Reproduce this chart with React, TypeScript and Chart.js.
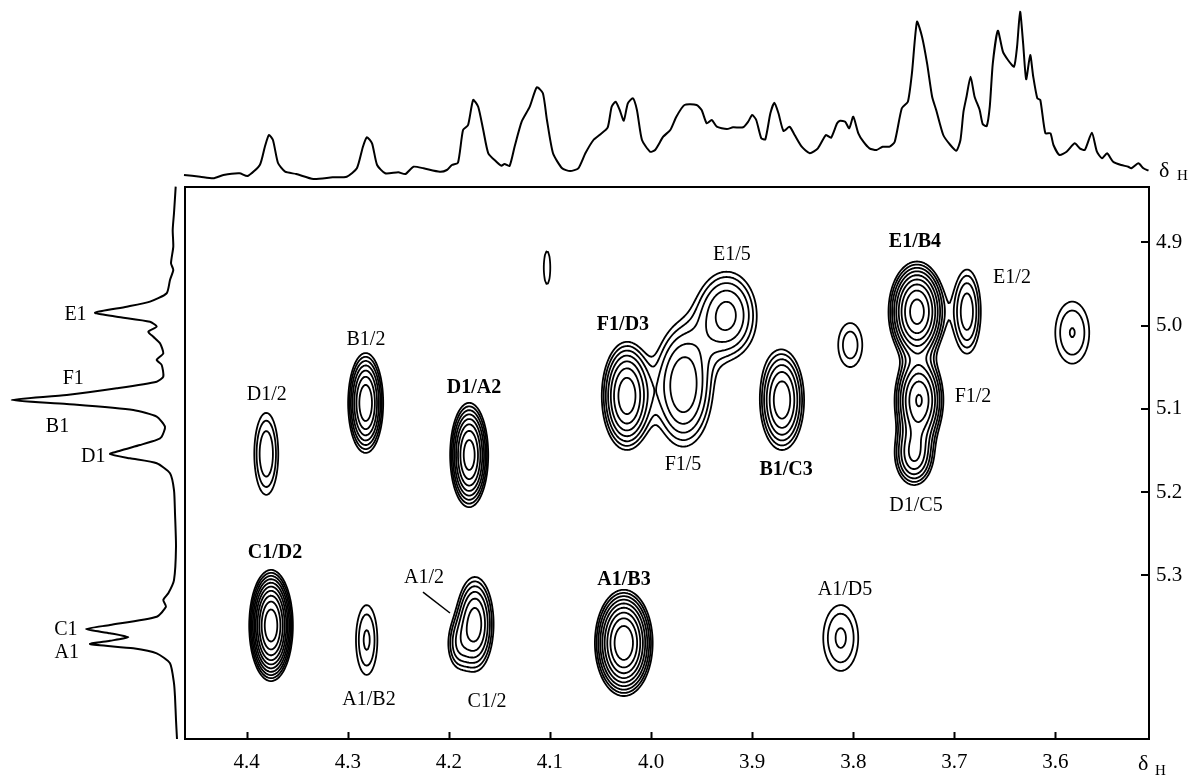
import React, { useEffect, useRef } from "react";
import { Chart, registerables } from "chart.js";

Chart.register(...registerables);

// ---------- axes ----------
const X_MIN = 3.5075;
const X_MAX = 4.461;
const Y_MIN = 4.8336;
const Y_MAX = 5.4966;
const xTickValues = [4.4, 4.3, 4.2, 4.1, 4.0, 3.9, 3.8, 3.7, 3.6];
const yTickValues = [4.9, 5.0, 5.1, 5.2, 5.3];

// ---------- top 1D projection (δH, intensity) ----------
const topShift = [4.462,4.446,4.433,4.423,4.407,4.399,4.387,4.382,4.378,4.374,4.369,4.362,4.351,4.334,4.315,4.301,4.291,4.285,4.281,4.276,4.271,4.263,4.250,4.243,4.235,4.225,4.209,4.202,4.197,4.191,4.186,4.181,4.176,4.171,4.166,4.161,4.153,4.148,4.145,4.140,4.135,4.128,4.120,4.113,4.107,4.103,4.097,4.088,4.080,4.072,4.065,4.057,4.051,4.043,4.039,4.035,4.031,4.027,4.023,4.018,4.014,4.009,4.001,3.996,3.988,3.981,3.975,3.967,3.955,3.950,3.945,3.940,3.935,3.925,3.919,3.909,3.904,3.900,3.896,3.891,3.887,3.882,3.878,3.874,3.869,3.863,3.858,3.851,3.843,3.835,3.827,3.822,3.816,3.813,3.808,3.804,3.800,3.795,3.790,3.784,3.777,3.771,3.764,3.759,3.752,3.746,3.742,3.737,3.732,3.727,3.722,3.718,3.711,3.704,3.698,3.694,3.691,3.688,3.684,3.680,3.675,3.672,3.668,3.665,3.662,3.657,3.652,3.647,3.641,3.638,3.635,3.632,3.629,3.625,3.622,3.618,3.615,3.610,3.605,3.602,3.596,3.589,3.581,3.576,3.571,3.564,3.559,3.554,3.549,3.543,3.535,3.528,3.525,3.518,3.513,3.508];
const topIntensity = [5,3.3,1.7,5,6.7,4,15,33.3,45,40,17,8.3,6,1,2.7,3.3,11.7,33.3,42.7,36.7,15,6.7,7.7,6,13.3,11.7,8.3,10,15,17.3,50,55,80,73.3,50,26.7,18.3,14.3,16,14,33.3,58.3,73.3,92.7,86.7,60,26.7,11.7,9,11.7,26.7,40,45,52.3,73.3,78.3,70,59.3,76.7,81.7,70,40,28.3,30,43.3,50,63.3,75,75,70,56.7,60,53.3,51,52.7,52.7,58.3,65,60,41.7,40.7,66.7,77.3,66.7,49,53.3,45,33.3,26.7,31.7,45,42.3,56.7,59.3,58.3,51.7,63.3,46.7,38.3,31.7,30,33.3,33.3,38.3,71.7,78.3,106.7,158.3,143.3,116.7,83.3,70,45,35,29.3,40,68.3,83.3,103.3,83.3,70,56,54,73.3,116.7,149.3,128.3,120,113.3,133.3,168.3,136.7,100.7,125,103.3,81.7,80,46.7,46.7,35,25,28.3,36.7,31.7,30,47.3,28.3,21.7,26.7,18.3,15,13.3,11.7,16.7,11.7,9.3];

// ---------- left 1D projection (δH, intensity) ----------
const leftShift = [4.8332,4.8648,4.8852,4.9052,4.9252,4.9332,4.9453,4.9612,4.9713,4.9774,4.9846,4.9894,4.9954,5.0013,5.0074,5.0135,5.0213,5.0334,5.0413,5.0474,5.0614,5.0674,5.0754,5.0835,5.0894,5.0942,5.1015,5.1094,5.1215,5.1335,5.1374,5.1435,5.1503,5.1543,5.1595,5.1654,5.1774,5.1976,5.2255,5.2657,5.3057,5.3216,5.3297,5.3377,5.3497,5.3597,5.3645,5.3696,5.3744,5.3786,5.3825,5.3877,5.3937,5.4057,5.4297,5.4458,5.4738,5.4966];
const leftIntensity = [4.3,6,7.3,6.7,9,6.7,10,13.3,30,53.3,85,63.3,30,23.3,31.7,26.7,20,16.7,23.3,18.3,16.7,23.3,63.3,113.3,168.3,113.3,46.7,23.3,15,18.3,23.3,40,60,70,50,23.3,10,6,5,4,6,11.7,16.7,14,23.3,70,94,70,51.7,70,90,46.7,23.3,10,6,5,4,3];
const projLabel = ["E1", "F1", "B1", "D1", "C1", "A1"];
const projLabelShift = [4.9873, 5.0642, 5.1218, 5.1579, 5.3657, 5.3933];
const projLabelIntensity = [104.5, 106.7, 122.5, 86.7, 114.2, 113.3];
const projDotShift = [5.1038];
const projDotIntensity = [119];

// ---------- 2D cross peaks (centre δH, δH; widths; height) ----------
const peakName = ["D1/2","B1/2","D1/A2","C1/D2","A1/B2","C1/2","A1/2","x4.10","F1/D3","F1/5","E1/5","B1/C3","x3.80","E1/B4","E1/2","F1/2","D1/C5","x3.58","A1/B3","A1/D5"];
const peakX = [4.3806,4.2823,4.1799,4.3759,4.2813,4.1742,4.1920,4.1029,4.0241,3.9681,3.9252,3.8705,3.8030,3.7370,3.6875,3.7350,3.7399,3.5834,4.0270,3.8124];
const peakY = [5.1541,5.0930,5.1555,5.3603,5.3777,5.3585,5.3838,4.9305,5.0846,5.0722,4.9877,5.0894,5.0234,4.9833,4.9833,5.0894,5.1555,5.0085,5.3812,5.3753];
const peakSX = [0.0096,0.0091,0.0094,0.0095,0.0099,0.0107,0.0079,0.0058,0.0131,0.0181,0.0195,0.0125,0.0130,0.0133,0.0098,0.0125,0.0115,0.0162,0.0132,0.0161];
const peakSY = [0.0399,0.0315,0.0313,0.0294,0.0392,0.0328,0.0216,0.0352,0.0344,0.0455,0.0344,0.0344,0.0289,0.0285,0.0363,0.0283,0.0222,0.0359,0.0295,0.0368];
const peakAmp = [2.14,6.12,7.41,13.15,1.77,4.4,1.5,1.17,5.87,3.65,3.17,4.59,1.52,9.31,2.63,6.4,3.71,1.71,10.35,1.78];
const contourBase = 1;
const contourFactor = 1.3;
const contourCount = 15;

// ---------- cross-peak labels ----------
const labelText = ["D1/2","B1/2","D1/A2","C1/D2","A1/2","A1/B2","C1/2","F1/D3","E1/5","F1/5","B1/C3","A1/B3","A1/D5","E1/B4","E1/2","F1/2","D1/C5"];
const labelX = [4.3802,4.2820,4.1752,4.3720,4.2246,4.2790,4.1623,4.0278,3.9200,3.9684,3.8665,4.0268,3.8082,3.7390,3.6430,3.6816,3.7380];
const labelY = [5.0835,5.0174,5.0750,5.2733,5.3033,5.4499,5.4522,4.9993,4.9152,5.1675,5.1735,5.3057,5.3177,4.8997,4.9428,5.0859,5.2168];
const labelBold = [false,false,true,true,false,false,false,true,false,false,true,true,false,true,false,false,false];
const pointerFrom = { x: 4.2256, y: 5.3201 };
const pointerTo = { x: 4.1989, y: 5.3453 };

const SERIF = '"Liberation Serif", "Times New Roman", serif';

function fieldAt(vx: number, vy: number): number {
  let s = 0;
  for (let p = 0; p < peakX.length; p++) {
    const dx = (vx - peakX[p]) / peakSX[p];
    if (dx > 6 || dx < -6) continue;
    const dy = (vy - peakY[p]) / peakSY[p];
    if (dy > 6 || dy < -6) continue;
    s += peakAmp[p] * Math.exp(-0.5 * (dx * dx + dy * dy));
  }
  return s;
}

function drawContours(chart: any) {
  const ctx = chart.ctx as CanvasRenderingContext2D;
  const xs = chart.scales.x;
  const ys = chart.scales.y;
  const { left, right, top, bottom } = chart.chartArea;
  const step = 1.5;
  const nx = Math.floor((right - left) / step) + 1;
  const ny = Math.floor((bottom - top) / step) + 1;
  const colV = new Float64Array(nx);
  const rowV = new Float64Array(ny);
  for (let i = 0; i < nx; i++) colV[i] = xs.getValueForPixel(left + i * step);
  for (let j = 0; j < ny; j++) rowV[j] = ys.getValueForPixel(top + j * step);
  const f = new Float32Array(nx * ny);
  for (let j = 0; j < ny; j++) for (let i = 0; i < nx; i++) f[j * nx + i] = fieldAt(colV[i], rowV[j]);

  ctx.save();
  ctx.beginPath();
  ctx.rect(left, top, right - left, bottom - top);
  ctx.clip();
  ctx.strokeStyle = "#000";
  ctx.lineWidth = 1.8;
  ctx.lineCap = "round";
  ctx.lineJoin = "round";
  const P = (gx: number, gy: number): [number, number] => [left + gx * step, top + gy * step];
  for (let k = 0; k < contourCount; k++) {
    const L = contourBase * Math.pow(contourFactor, k);
    ctx.beginPath();
    for (let j = 0; j < ny - 1; j++) {
      for (let i = 0; i < nx - 1; i++) {
        const a = f[j * nx + i], b = f[j * nx + i + 1], c = f[(j + 1) * nx + i + 1], d = f[(j + 1) * nx + i];
        let idx = 0;
        if (a >= L) idx |= 1;
        if (b >= L) idx |= 2;
        if (c >= L) idx |= 4;
        if (d >= L) idx |= 8;
        if (idx === 0 || idx === 15) continue;
        const e0 = () => P(i + (L - a) / (b - a), j);
        const e1 = () => P(i + 1, j + (L - b) / (c - b));
        const e2 = () => P(i + (L - d) / (c - d), j + 1);
        const e3 = () => P(i, j + (L - a) / (d - a));
        const seg = (p: [number, number], q: [number, number]) => { ctx.moveTo(p[0], p[1]); ctx.lineTo(q[0], q[1]); };
        const centre = (a + b + c + d) / 4;
        switch (idx) {
          case 1: case 14: seg(e3(), e0()); break;
          case 2: case 13: seg(e0(), e1()); break;
          case 3: case 12: seg(e3(), e1()); break;
          case 4: case 11: seg(e1(), e2()); break;
          case 6: case 9: seg(e0(), e2()); break;
          case 7: case 8: seg(e3(), e2()); break;
          case 5:
            if (centre >= L) { seg(e0(), e1()); seg(e2(), e3()); } else { seg(e3(), e0()); seg(e1(), e2()); }
            break;
          case 10:
            if (centre >= L) { seg(e3(), e0()); seg(e1(), e2()); } else { seg(e0(), e1()); seg(e2(), e3()); }
            break;
        }
      }
    }
    ctx.stroke();
  }
  ctx.restore();
}

const nmrPlugin = {
  id: "nmrDecor",
  afterDatasetsDraw(chart: any) {
    const ctx = chart.ctx as CanvasRenderingContext2D;
    const xs = chart.scales.x;
    const ys = chart.scales.y;
    const xl = chart.scales.xLeft;
    const { left, right, top, bottom } = chart.chartArea;

    drawContours(chart);

    ctx.save();
    ctx.strokeStyle = "#000";
    ctx.lineWidth = 2;
    ctx.strokeRect(left, top, right - left, bottom - top);
    ctx.beginPath();
    for (const v of xTickValues) {
      const px = Math.round(xs.getPixelForValue(v)) + 0.5;
      ctx.moveTo(px, bottom);
      ctx.lineTo(px, bottom - 7);
    }
    for (const v of yTickValues) {
      const py = Math.round(ys.getPixelForValue(v));
      ctx.moveTo(right, py);
      ctx.lineTo(right - 8, py);
    }
    ctx.stroke();

    // cross-peak labels
    ctx.fillStyle = "#000";
    ctx.textAlign = "center";
    ctx.textBaseline = "middle";
    for (let i = 0; i < labelText.length; i++) {
      ctx.font = `${labelBold[i] ? "bold " : ""}20px ${SERIF}`;
      ctx.fillText(labelText[i], xs.getPixelForValue(labelX[i]), ys.getPixelForValue(labelY[i]));
    }
    ctx.lineWidth = 1.5;
    ctx.beginPath();
    ctx.moveTo(xs.getPixelForValue(pointerFrom.x), ys.getPixelForValue(pointerFrom.y));
    ctx.lineTo(xs.getPixelForValue(pointerTo.x), ys.getPixelForValue(pointerTo.y));
    ctx.stroke();

    // projection labels
    ctx.font = `20px ${SERIF}`;
    for (let i = 0; i < projLabel.length; i++) {
      ctx.fillText(projLabel[i], xl.getPixelForValue(projLabelIntensity[i]), ys.getPixelForValue(projLabelShift[i]));
    }

    // δH axis captions
    ctx.textAlign = "left";
    ctx.textBaseline = "alphabetic";
    ctx.font = `22px ${SERIF}`;
    ctx.fillText("δ", right + 10, top - 10);
    ctx.fillText("δ", right - 11, bottom + 31);
    ctx.font = `15px ${SERIF}`;
    ctx.fillText("H", right + 28, top - 7);
    ctx.fillText("H", right + 6, bottom + 36);
    ctx.restore();
  },
};

export default function App() {
  const ref = useRef<HTMLCanvasElement>(null);
  useEffect(() => {
    const canvas = ref.current;
    if (!canvas) return;
    const tickFont = { family: SERIF, size: 21 };
    const chart = new Chart(canvas, {
      type: "scatter",
      data: {
        datasets: [
          {
            label: "F2 projection",
            data: topShift.map((s, i) => ({ x: s, y: topIntensity[i] })),
            xAxisID: "x",
            yAxisID: "yTop",
            showLine: true,
            pointRadius: 0,
            borderColor: "#000",
            borderWidth: 2,
            tension: 0.2,
            clip: false as any,
          },
          {
            label: "F1 projection",
            data: leftShift.map((s, i) => ({ x: leftIntensity[i], y: s })),
            xAxisID: "xLeft",
            yAxisID: "y",
            showLine: true,
            pointRadius: 0,
            borderColor: "#000",
            borderWidth: 2,
            tension: 0.2,
            clip: false as any,
          },
          {
            label: "dot",
            data: projDotShift.map((s, i) => ({ x: projDotIntensity[i], y: s })),
            xAxisID: "xLeft",
            yAxisID: "y",
            showLine: false,
            pointRadius: 1.2,
            pointBorderWidth: 0,
            backgroundColor: "#000",
            borderColor: "#000",
            clip: false as any,
          },
        ],
      },
      options: {
        responsive: false,
        animation: false,
        devicePixelRatio: 1,
        layout: { padding: { left: 185, top: 187, right: 0, bottom: 0 } },
        plugins: { legend: { display: false }, tooltip: { enabled: false } },
        scales: {
          x: {
            type: "linear",
            position: "bottom",
            min: X_MIN,
            max: X_MAX,
            reverse: true,
            afterBuildTicks: (s: any) => { s.ticks = xTickValues.map((v) => ({ value: v })); },
            afterFit: (s: any) => { s.height = 37; },
            grid: { display: false, drawTicks: false },
            border: { display: false },
            ticks: {
              color: "#000",
              font: tickFont,
              padding: 11,
              autoSkip: false,
              maxRotation: 0,
              callback: (v: any) => Number(v).toFixed(1),
            },
          },
          y: {
            type: "linear",
            position: "right",
            min: Y_MIN,
            max: Y_MAX,
            reverse: true,
            afterBuildTicks: (s: any) => { s.ticks = yTickValues.map((v) => ({ value: v })); },
            afterFit: (s: any) => { s.width = 42; },
            grid: { display: false, drawTicks: false },
            border: { display: false },
            ticks: {
              color: "#000",
              font: tickFont,
              padding: 7,
              autoSkip: false,
              callback: (v: any) => Number(v).toFixed(1),
            },
          },
          yTop: { type: "linear", display: false, min: -559, max: -7 },
          xLeft: { type: "linear", display: false, reverse: true, min: -969, max: -5 },
        },
      } as any,
      plugins: [nmrPlugin],
    });
    return () => chart.destroy();
  }, []);
  return (
    <div style={{ position: "fixed", left: 0, top: 0, width: 1191, height: 776, background: "#fff" }}>
      <canvas ref={ref} width={1191} height={776} style={{ display: "block", width: 1191, height: 776 }} />
    </div>
  );
}
